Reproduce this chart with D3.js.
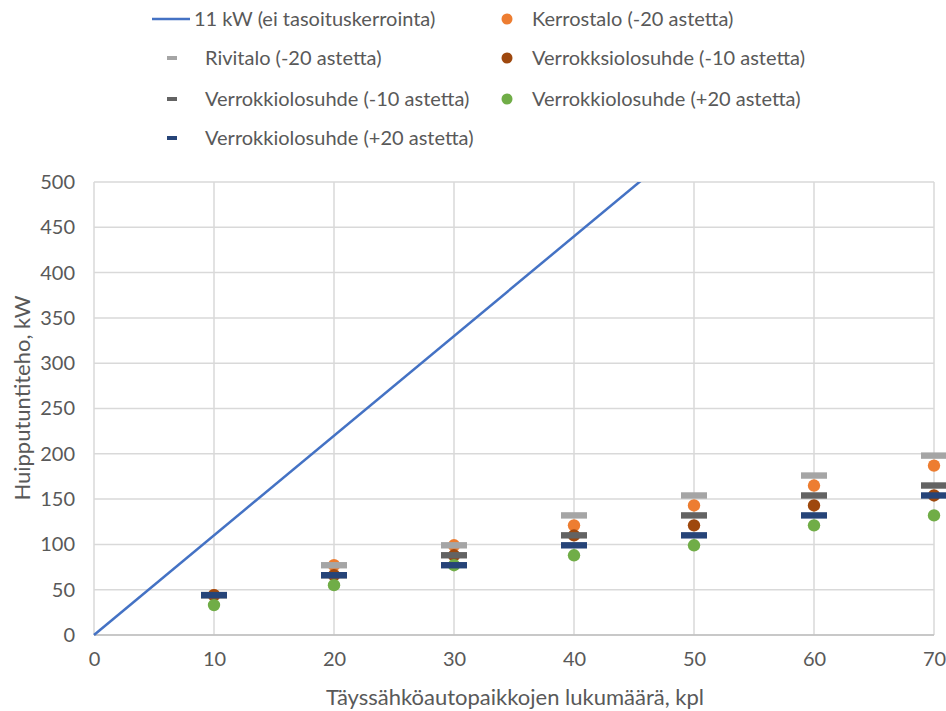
<!DOCTYPE html>
<html><head><meta charset="utf-8">
<script src="https://cdn.jsdelivr.net/npm/d3@7"></script>
<style>body{margin:0;background:#fff}svg{display:block}text{font-family:Lato,"Open Sans",sans-serif;fill:#595959}</style>
</head><body><svg id="c" width="946" height="711"></svg>
<script>
const xCats = [10, 20, 30, 40, 50, 60, 70];
const xTicks = [0, 10, 20, 30, 40, 50, 60, 70];
const yTicks = [0, 50, 100, 150, 200, 250, 300, 350, 400, 450, 500];
const lineX = [0, 70];
const lineY = [0, 770];
const kerrostalo = [44, 77, 99, 121, 143, 165, 187];
const rivitalo = [44, 77, 99, 132, 154, 176, 198];
const verrokksiM10 = [44, 66, 88, 110, 121, 143, 154];
const verrokkiM10 = [44, 66, 88, 110, 132, 154, 165];
const verrokkiP20dot = [33, 55, 77, 88, 99, 121, 132];
const verrokkiP20bar = [44, 66, 77, 99, 110, 132, 154];

const series = [
  {name:"Kerrostalo (-20 astetta)", vals:kerrostalo, type:"dot", color:"#ED7D31"},
  {name:"Rivitalo (-20 astetta)", vals:rivitalo, type:"bar", color:"#A5A5A5"},
  {name:"Verrokksiolosuhde (-10 astetta)", vals:verrokksiM10, type:"dot", color:"#9E480E"},
  {name:"Verrokkiolosuhde (-10 astetta)", vals:verrokkiM10, type:"bar", color:"#636363"},
  {name:"Verrokkiolosuhde (+20 astetta)", vals:verrokkiP20dot, type:"dot", color:"#70AD47"},
  {name:"Verrokkiolosuhde (+20 astetta)", vals:verrokkiP20bar, type:"bar", color:"#264478"}
];

const svg = d3.select("#c");
const L = 94, R = 934, T = 182, B = 635;
const x = d3.scaleLinear().domain([0, 70]).range([L, R]);
const y = d3.scaleLinear().domain([0, 500]).range([B, T]);

// grid
const g = svg.append("g");
g.selectAll("line.h").data(yTicks).join("line")
  .attr("x1", L).attr("x2", R).attr("y1", d=>y(d)).attr("y2", d=>y(d))
  .attr("stroke", "#D9D9D9").attr("stroke-width", 1.5);
g.selectAll("line.v").data(xTicks).join("line")
  .attr("y1", T).attr("y2", B).attr("x1", d=>x(d)).attr("x2", d=>x(d))
  .attr("stroke", "#D9D9D9").attr("stroke-width", 1.5);
g.append("line").attr("x1", L).attr("x2", R).attr("y1", B).attr("y2", B)
  .attr("stroke", "#BFBFBF").attr("stroke-width", 1.5);

// axes
const yAx = svg.append("g").attr("transform", `translate(${L},0)`)
  .call(d3.axisLeft(y).tickValues(yTicks).tickSize(0).tickPadding(19));
const xAx = svg.append("g").attr("transform", `translate(0,${B})`)
  .call(d3.axisBottom(x).tickValues(xTicks).tickSize(0).tickPadding(17));
[yAx, xAx].forEach(a => {
  a.select(".domain").remove();
  a.selectAll("text").style("font-size", "20px").attr("fill", "#595959");
});

// line
svg.append("clipPath").attr("id", "clp").append("rect")
  .attr("x", L - 2).attr("y", T).attr("width", R - L + 20).attr("height", B - T + 2);
const lineData = lineX.map((v, i) => [v, lineY[i]]);
svg.append("path").datum(lineData).attr("clip-path", "url(#clp)")
  .attr("d", d3.line().x(d=>x(d[0])).y(d=>y(d[1])))
  .attr("fill", "none").attr("stroke", "#4472C4").attr("stroke-width", 2.5);

// markers
series.forEach(s => {
  const pts = xCats.map((c, i) => [c, s.vals[i]]);
  if (s.type === "dot") {
    svg.append("g").selectAll("circle").data(pts).join("circle")
      .attr("cx", d=>x(d[0])).attr("cy", d=>y(d[1])).attr("r", 6.2)
      .attr("fill", s.color);
  } else {
    svg.append("g").selectAll("rect").data(pts).join("rect")
      .attr("x", d=>x(d[0]) - 13).attr("y", d=>y(d[1]) - 3.2)
      .attr("width", 26).attr("height", 6.4).attr("fill", s.color);
  }
});

// axis titles
svg.append("text").attr("x", 515).attr("y", 697).attr("dy", "0.35em").attr("text-anchor", "middle")
  .style("font-size", "22px").text("Täyssähköautopaikkojen lukumäärä, kpl");
svg.append("text").attr("transform", "translate(22,398) rotate(-90)").attr("dy", "0.35em")
  .attr("text-anchor", "middle").style("font-size", "22px").text("Huipputuntiteho, kW");

// legend
const leg = [
  {name:"11 kW (ei tasoituskerrointa)", type:"line", color:"#4472C4"},
  ...series
];
const pos = [[0,0],[1,0],[0,1],[1,1],[0,2],[1,2],[0,3]];
const colX = [172, 507], rowY = [19, 58, 99, 138];
const lg = svg.append("g");
leg.forEach((s, i) => {
  const [c, r] = pos[i];
  const cx = colX[c], cy = rowY[r];
  if (s.type === "line") {
    lg.append("line").attr("x1", 152).attr("x2", 190).attr("y1", cy).attr("y2", cy)
      .attr("stroke", s.color).attr("stroke-width", 2.5);
  } else if (s.type === "dot") {
    lg.append("circle").attr("cx", cx).attr("cy", cy).attr("r", 5.5).attr("fill", s.color);
  } else {
    lg.append("rect").attr("x", cx - 5).attr("y", cy - 2).attr("width", 10).attr("height", 4).attr("fill", s.color);
  }
  const tx = c === 1 ? 532 : (s.type === "line" ? 194 : 205);
  lg.append("text").attr("x", tx)
    .attr("y", cy).attr("dy", "0.35em").style("font-size", "20px").text(s.name);
});
</script></body></html>
